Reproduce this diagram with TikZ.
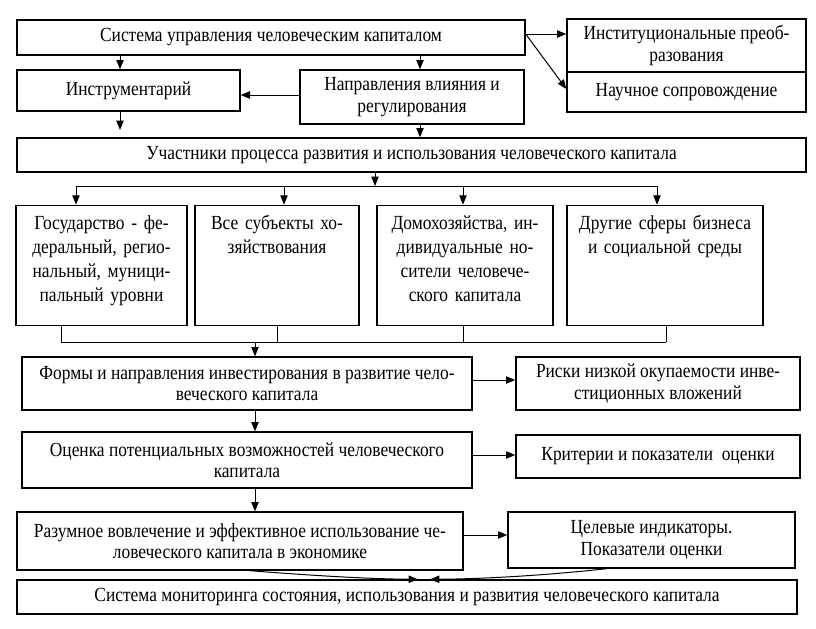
\documentclass[tikz,border=0pt]{standalone}
\usepackage{fontspec}
\setmainfont{Liberation Serif}[FakeStretch=0.87]
\usetikzlibrary{arrows.meta}

\tikzset{every picture/.style={line width=0.75pt}}
\tikzset{
  blk/.style={draw, line width=1pt, align=center, inner sep=2pt, font=\fontsize{15}{16}\selectfont},
  tallblk/.style={blk, font=\fontsize{15}{18}\selectfont, text width=#1, text height=16pt, text depth=70.25pt},
  arr/.style={-{Triangle[length=7pt,width=5.5pt]}}
}

\begin{document}
\begin{tikzpicture}[x=0.75pt,y=0.75pt,yscale=-1,xscale=1]
\useasboundingbox (0,0) rectangle (816,628);

%Blocks: top row
\node[blk, minimum width=381pt, minimum height=26.25pt] (sys) at (271,37.5) {Система управления человеческим капиталом};
\node[blk, minimum width=179.25pt, minimum height=39.75pt] (inst) at (686.5,45.5) {Институциональные преоб-\\разования};
\node[blk, minimum width=179.25pt, minimum height=30pt] (nauch) at (686.5,92) {Научное сопровождение};
\node[blk, minimum width=167.25pt, minimum height=30.75pt] (instr) at (128.5,90.5) {Инструментарий};
\node[blk, minimum width=168pt, minimum height=40.5pt] (napr) at (412,97) {Направления влияния и\\регулирования};
\node[blk, minimum width=591.75pt, minimum height=25.5pt] (uch) at (411.5,155) {Участники процесса развития и использования человеческого капитала};

%Blocks: participants
\node[tallblk=124.25pt] (gos) at (101.5,265.5) {Государство - фе-\\деральный, регио-\\нальный, муници-\\пальный уровни};
\node[tallblk=119pt] (subj) at (277,265.5) {Все субъекты хо-\\зяйствования};
\node[tallblk=128pt] (dom) at (465,265.5) {Домохозяйства, ин-\\дивидуальные но-\\сители человече-\\ского капитала};
\node[tallblk=143pt] (dr) at (665,265.5) {Другие сферы бизнеса\\и социальной среды};

%Blocks: lower part
\node[blk, minimum width=337.5pt, minimum height=39.75pt] (form) at (247,383.5) {Формы и направления инвестирования в развитие чело-\\веческого капитала};
\node[blk, minimum width=213pt, minimum height=39.75pt] (risk) at (658,383.5) {Риски низкой окупаемости инве-\\стиционных вложений};
\node[blk, minimum width=337.5pt, minimum height=42pt] (ocen) at (247,460) {Оценка потенциальных возможностей человеческого\\капитала};
\node[blk, minimum width=213pt, minimum height=32.25pt] (krit) at (658,456.5) {Критерии и показатели\ \ оценки};
\node[blk, minimum width=334.5pt, minimum height=43.5pt] (razum) at (240,541) {Разумное вовлечение и эффективное использование че-\\ловеческого капитала в экономике};
\node[blk, minimum width=215.25pt, minimum height=42pt] (cel) at (651.5,540) {Целевые индикаторы.\\Показатели оценки};
\node[blk, minimum width=585pt, minimum height=25.5pt] (mon) at (407,597) {Система мониторинга состояния, использования и развития человеческого капитала};

%Connectors: top
\draw[arr] (sys.south -| 120,0) -- (instr.north -| 120,0);
\draw[arr] (sys.south -| 420,0) -- (napr.north -| 420,0);
\draw[arr] (napr.west |- 0,95) -- (instr.east |- 0,95);
\coordinate (instrend) at (120,130);
\draw[arr] (instr.south -| instrend) -- (instrend);
\draw[arr] (napr.south -| 420,0) -- (uch.north -| 420,0);
\draw[arr] (sys.east |- 0,34) -- (inst.west |- 0,34);
\draw[arr] (sys.east |- 0,34) -- (nauch.west |- 0,89);

%Connectors: participants
\coordinate (split) at (375,186);
\draw[arr] (uch.south -| split) -- (split);
\draw (split -| 76,0) -- (split -| 657,0);
\foreach \n/\xx in {gos/76, subj/284, dom/463, dr/657}
  \draw[arr] (split -| \xx,0) -- (\n.north -| \xx,0);
\coordinate (join) at (255,342);
\foreach \n/\xx in {gos/61, subj/277, dom/463, dr/666}
  \draw (\n.south -| \xx,0) -- (join -| \xx,0);
\draw (join -| 61,0) -- (join -| 666,0);
\draw[arr] (join) -- (form.north -| join);

%Connectors: lower part
\draw[arr] (form.east |- 0,380) -- (risk.west |- 0,380);
\draw[arr] (form.south -| 255,0) -- (ocen.north -| 255,0);
\draw[arr] (ocen.east |- 0,455) -- (krit.west |- 0,455);
\draw[arr] (ocen.south -| 255,0) -- (razum.north -| 255,0);
\draw[arr] (razum.east |- 0,535) -- (cel.west |- 0,535);
\draw[arr] (razum.south -| 250,0) .. controls (330,577) and (380,579) .. (mon.north -| 418,0);
\draw[arr] (cel.south -| 607,0) .. controls (530,577) and (470,579) .. (mon.north -| 430,0);

\end{tikzpicture}
\end{document}
